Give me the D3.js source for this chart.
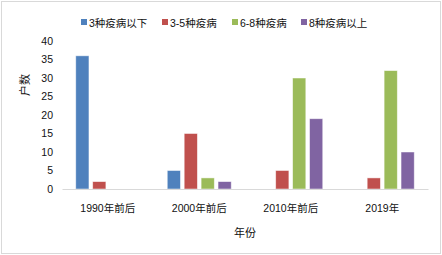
<!DOCTYPE html>
<html>
<head>
<meta charset="utf-8">
<script src="https://cdn.jsdelivr.net/npm/d3@7"></script>
<style>
  body { margin: 0; background: #fff; }
  text { font-family: "Liberation Sans", "Noto Sans CJK SC", sans-serif; fill: #111; }
</style>
</head>
<body>
<div id="drawing"></div>
<script>
var categories = ["1990年前后", "2000年前后", "2010年前后", "2019年"];
var seriesNames = ["3种疫病以下", "3-5种疫病", "6-8种疫病", "8种疫病以上"];
var below3 = [36, 5, 0, 0];
var from3to5 = [2, 15, 5, 3];
var from6to8 = [0, 3, 30, 32];
var above8 = [0, 2, 19, 10];
var yTicks = [0, 5, 10, 15, 20, 25, 30, 35, 40];
var colors = ["#4F81BD", "#C0504D", "#9BBB59", "#8064A2"];

var width = 442, height = 255;
var margin = {top: 41, right: 14, bottom: 66, left: 62};
var series = [below3, from3to5, from6to8, above8];

var svg = d3.select("#drawing").append("svg")
  .attr("width", width)
  .attr("height", height);

svg.append("rect")
  .attr("x", 1.5).attr("y", 1.5)
  .attr("width", width - 3).attr("height", height - 3)
  .attr("fill", "#fff")
  .attr("stroke", "#d9d9d9");

var x0 = d3.scaleBand()
  .domain(categories)
  .range([margin.left, width - margin.right]);

var x1 = d3.scaleBand()
  .domain(d3.range(series.length))
  .range([0, 64])
  .paddingInner(0.22);

var y = d3.scaleLinear()
  .domain([0, 40])
  .range([height - margin.bottom, margin.top]);

// bars
var groups = svg.append("g").selectAll("g")
  .data(categories)
  .join("g")
  .attr("transform", d => `translate(${x0(d) + x0.bandwidth() / 2 - 32},0)`);

groups.selectAll("rect")
  .data((d, i) => series.map((s, k) => ({k: k, v: s[i]})))
  .join("rect")
  .filter(d => d.v > 0)
  .attr("x", d => x1(d.k))
  .attr("y", d => y(d.v))
  .attr("width", x1.bandwidth())
  .attr("height", d => y(0) - y(d.v))
  .attr("fill", d => colors[d.k])
  .attr("stroke", "#fff")
  .attr("stroke-opacity", 0.6)
  .attr("stroke-width", 0.8);

// x axis
var xAxis = svg.append("g")
  .attr("transform", `translate(0,${y(0)})`)
  .call(d3.axisBottom(x0).tickSize(0).tickPadding(16));
xAxis.select(".domain").attr("stroke", "#d9d9d9");
xAxis.selectAll("text").style("font-size", "10.5px").attr("fill", "#111");

// y axis
var yAxis = svg.append("g")
  .attr("transform", `translate(${margin.left},0)`)
  .call(d3.axisLeft(y).tickValues(yTicks).tickSize(0).tickPadding(9));
yAxis.select(".domain").remove();
yAxis.selectAll("text").style("font-size", "10.5px").attr("fill", "#111");

// axis titles
svg.append("text")
  .attr("x", x0.range()[0] + (x0.range()[1] - x0.range()[0]) / 2)
  .attr("y", 237)
  .attr("text-anchor", "middle")
  .style("font-size", "11px")
  .text("年份");

svg.append("text")
  .attr("transform", "translate(29,85) rotate(-90)")
  .attr("text-anchor", "middle")
  .style("font-size", "11px")
  .text("户数");

// legend
var legendX = [81, 162, 232, 301];
var legend = svg.append("g").selectAll("g")
  .data(seriesNames)
  .join("g")
  .attr("transform", (d, i) => `translate(${legendX[i]},23)`);

legend.append("rect")
  .attr("x", 0).attr("y", -4)
  .attr("width", 6).attr("height", 6)
  .attr("fill", (d, i) => colors[i]);

legend.append("text")
  .attr("x", 8).attr("y", 0)
  .attr("dy", "0.35em")
  .style("font-size", "10.5px")
  .text(d => d);
</script>
</body>
</html>
